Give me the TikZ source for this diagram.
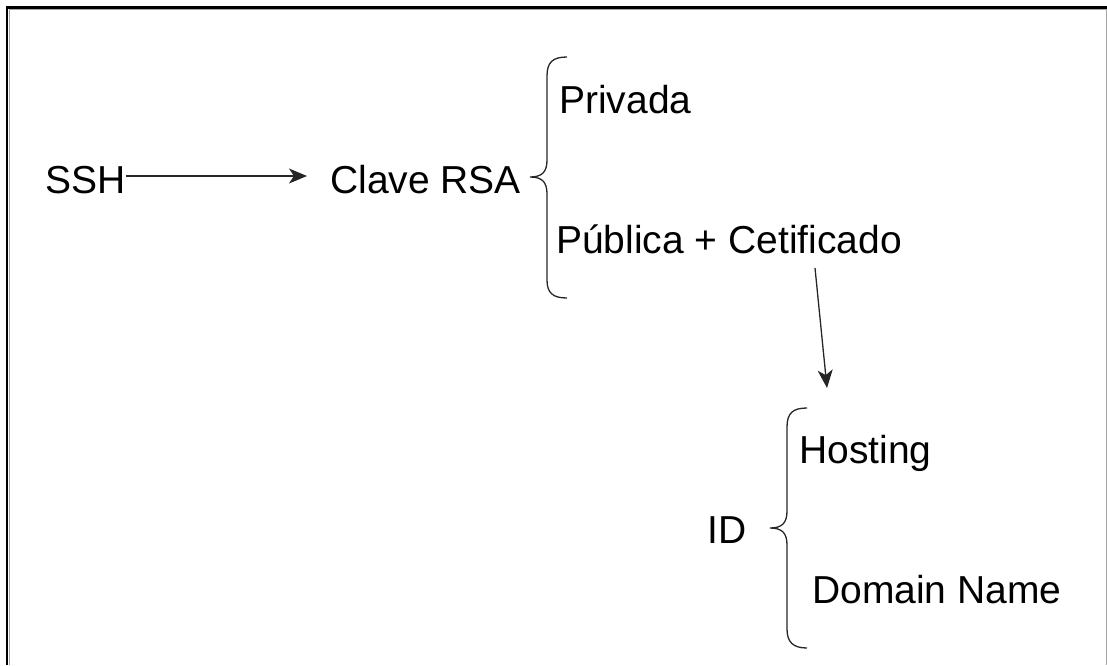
\documentclass[tikz,border=0pt]{standalone}
\usepackage{fontspec}
\setmainfont{Liberation Sans}
\usetikzlibrary{arrows.meta}
\begin{document}
\begin{tikzpicture}[x=1pt,y=-1pt,
  lbl/.style={inner sep=0pt,anchor=base west,font=\fontsize{39}{47}\selectfont,text=black},
  conn/.style={draw=black!85,line width=1.3pt,-{Stealth[length=18pt,width=15pt,inset=5pt]}},
  bracepath/.style={draw=black!85,line width=1.3pt},
  frameline/.style={draw=black,line width=2.2pt},
  shade/.style={draw=black!35,line width=1pt}]
\useasboundingbox (0,0) rectangle (1107,665);
% frame
\draw[shade] (9,9.5) -- (1107,9.5);
\draw[shade] (9,9.5) -- (9,665);
\draw[shade] (1106,9) -- (1106,665);
\draw[frameline] (7,7.5) -- (1107,7.5);
\draw[frameline] (7,6.4) -- (7,665);
% labels
\node[lbl] (ssh) at (45,193) {SSH};
\node[lbl] (rsa) at (330,193) {Clave RSA};
\node[lbl] (priv) at (559,113) {Privada};
\node[lbl] (pub) at (556,253) {Pública + Cetificado};
\node[lbl] (id) at (707,543) {ID};
\node[lbl] (host) at (799,463) {Hosting};
\node[lbl] (dom) at (812,603) {Domain Name};
% arrows
\coordinate (a2s) at (815,268);
\coordinate (a2e) at (827,388);
\draw[conn] (ssh.east |- 0,176) -- (307,176);
\draw[conn] (a2s) -- (a2e);
% brace 1
\draw[bracepath] (567,57) .. controls (553,57) and (547,62) .. (547,76)
  -- (547,160) .. controls (547,172) and (542,177) .. (530,177)
  .. controls (542,177) and (547,182) .. (547,194)
  -- (547,280) .. controls (547,293) and (553,298) .. (567,298);
% brace 2
\draw[bracepath] (807,408) .. controls (793,408) and (787,413) .. (787,427)
  -- (787,511) .. controls (787,523) and (782,528) .. (770,528)
  .. controls (782,528) and (787,533) .. (787,545)
  -- (787,629) .. controls (787,642) and (793,648) .. (807,648);
\end{tikzpicture}
\end{document}
